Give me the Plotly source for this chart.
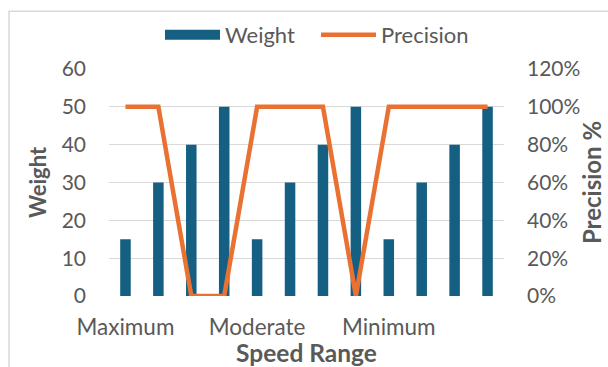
import plotly.graph_objects as go

# ---- data ----
speed_groups = ["Maximum", "Moderate", "Minimum"]
samples_per_group = 4
weight = [15, 30, 40, 50, 15, 30, 40, 50, 15, 30, 40, 50]
precision = [1, 1, 0, 0, 1, 1, 1, 0, 1, 1, 1, 1]
weight_ticks = [0, 10, 20, 30, 40, 50, 60]
precision_ticks = [0, 0.2, 0.4, 0.6, 0.8, 1.0, 1.2]

idx = list(range(len(weight)))
tickvals = [i * samples_per_group for i in range(len(speed_groups))]

BLUE = "#156082"
ORANGE = "#E97132"
GRID = "#D9D9D9"
TXT = "#595959"
FONT = "Lato"

fig = go.Figure()
fig.add_trace(go.Bar(x=idx, y=weight, name="Weight", marker_color=BLUE,
                     marker_line_width=0, showlegend=False, legendgroup="w",
                     yaxis="y"))
# legend proxy so the key is a wide block like the original
fig.add_trace(go.Scatter(x=[None], y=[None], mode="lines", name="Weight",
                         line=dict(color=BLUE, width=14), legendgroup="w",
                         yaxis="y"))
fig.add_trace(go.Scatter(x=idx, y=precision, name="Precision", mode="lines",
                         line=dict(color=ORANGE, width=4.5), yaxis="y2"))

W, H = 608, 367
L, R, T, B = 109, 104, 69, 70.5
pw = W - L - R
ph = H - T - B

fig.update_layout(
    width=W, height=H,
    margin=dict(l=L, r=R, t=T, b=B, autoexpand=False),
    paper_bgcolor="white", plot_bgcolor="white",
    font=dict(family=FONT, color=TXT, size=21),
    bargap=0.68,
    showlegend=True,
    legend=dict(orientation="h", x=(160 - L) / pw, xanchor="left",
                y=(T - 35) / ph + 1, yanchor="middle",
                itemwidth=55, entrywidth=86, entrywidthmode="pixels",
                font=dict(size=22, color=TXT), bgcolor="rgba(0,0,0,0)",
                traceorder="normal"),
    xaxis=dict(range=[-0.5, len(weight) - 0.5], tickmode="array",
               tickvals=tickvals, ticktext=speed_groups,
               showgrid=False, zeroline=False, showline=False, ticks="",
               ticklabelstandoff=15, tickfont=dict(size=22.5),
               title=dict(text="<b>Speed Range</b>", font=dict(size=24.5, color=TXT),
                          standoff=4)),
    yaxis=dict(range=[0, 60], tickvals=weight_ticks, showgrid=True,
               gridcolor=GRID, gridwidth=1, zeroline=False, showline=False,
               ticks="", ticklabelstandoff=22,
               title=dict(text="<b>Weight</b>", font=dict(size=22, color=TXT),
                          standoff=8)),
    yaxis2=dict(range=[0, 1.2], tickvals=precision_ticks, tickformat=".0%",
                overlaying="y", side="right", showgrid=False, zeroline=False,
                showline=False, ticks="", ticklabelstandoff=22,
                title=dict(text="<b>Precision %</b>", font=dict(size=24, color=TXT),
                           standoff=4)),
    shapes=[dict(type="rect", xref="paper", yref="paper",
                 x0=(9 - L) / pw, x1=(W + 20 - L) / pw,
                 y0=(H - B - (H + 20)) / ph, y1=(H - B - 11) / ph,
                 line=dict(color=GRID, width=1.5), fillcolor="rgba(0,0,0,0)",
                 layer="below")],
)

fig.write_html("out.html",
               config={"displayModeBar": False},
               post_script="document.body.style.margin='0';"
                           "document.body.style.overflow='hidden';")
